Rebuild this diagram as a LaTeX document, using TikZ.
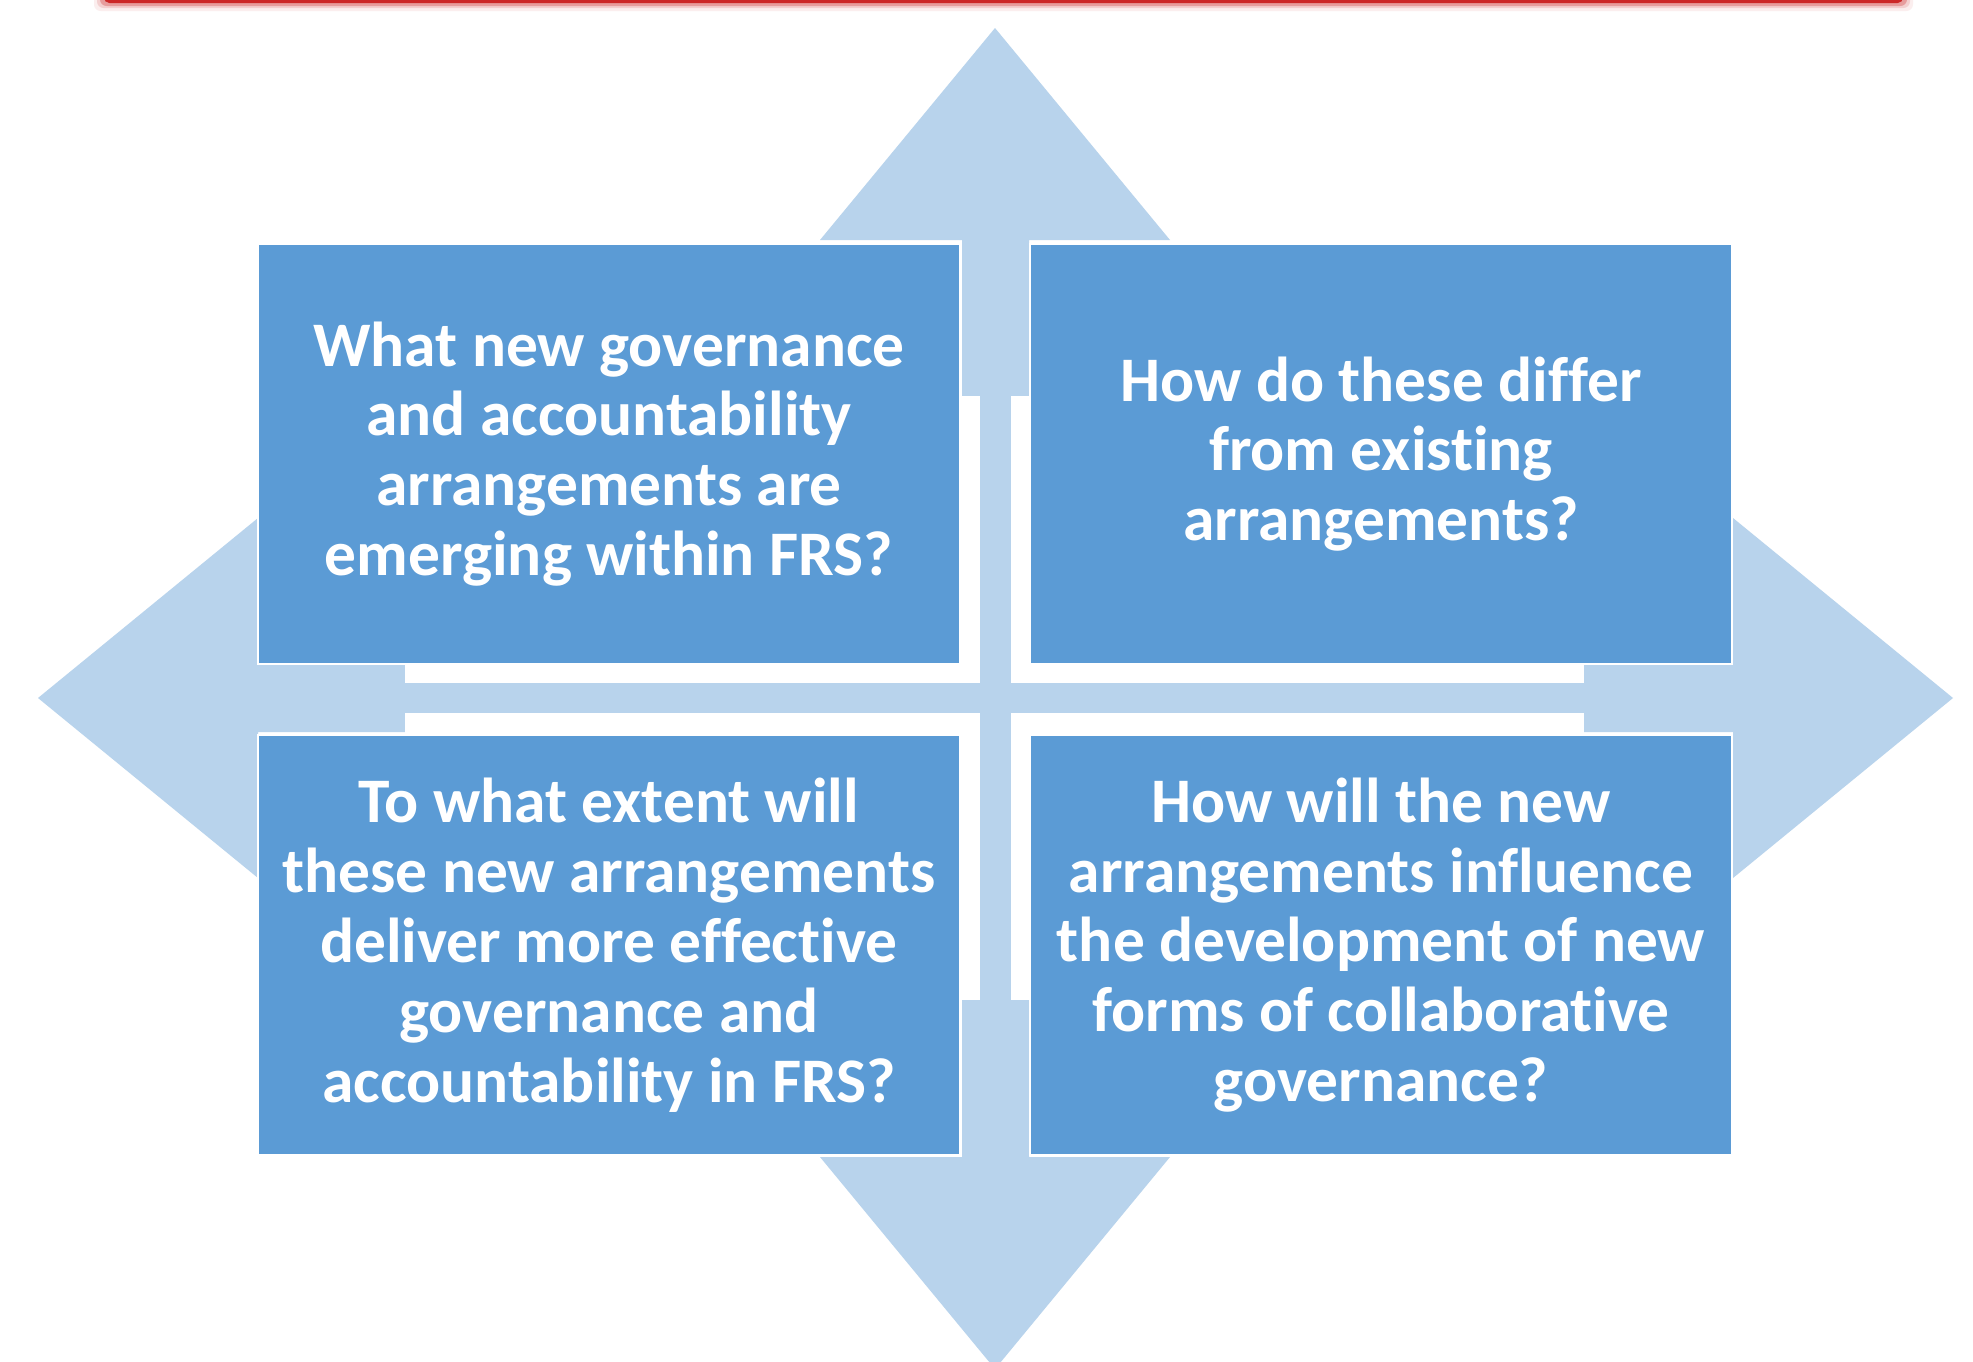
\documentclass[tikz,border=0pt]{standalone}
\usepackage{fontspec}
\setmainfont{Carlito}[Ligatures=NoCommon]
\definecolor{boxblue}{RGB}{91,155,213}
\definecolor{lightblue}{RGB}{184,211,236}
\definecolor{topred}{RGB}{204,40,40}
\begin{document}
\begin{tikzpicture}[x=0.75pt,y=-0.75pt,
  qbox/.style={draw=white, line width=2pt, fill=boxblue,
    minimum width=526.5pt, minimum height=315pt, inner sep=0pt,
    align=center, text=white, font=\bfseries\fontsize{47.6}{52.4}\selectfont},
  arrowfill/.style={fill=lightblue}]
\useasboundingbox (0,0) rectangle (1973,1361);
\fill[white] (0,0) rectangle (1973,1361);
% red bar at top with soft shadow
\fill[topred,opacity=0.08,rounded corners=5pt] (94,-30) rectangle (1913,11);
\fill[topred,opacity=0.15,rounded corners=5pt] (97,-30) rectangle (1910,8);
\fill[topred,opacity=0.3,rounded corners=5pt] (100,-30) rectangle (1907,6);
\fill[topred,rounded corners=4pt] (104,-30) rectangle (1903,3);
% quad arrow
\path[arrowfill] (995,28) -- (1170,240) -- (1029,240) -- (1029,665) -- (1733,665)
  -- (1733,518) -- (1953,698) -- (1733,878) -- (1733,732) -- (1029,732)
  -- (1029,1157) -- (1170,1157) -- (995,1369) -- (820,1157) -- (962,1157)
  -- (962,732) -- (258,732) -- (258,878) -- (38,698) -- (258,518)
  -- (258,665) -- (962,665) -- (962,240) -- (820,240) -- cycle;
% white centre and thin cross
\fill[white] (405,396) rectangle (1584,1000);
\fill[lightblue] (980,396) rectangle (1011,1000);
\fill[lightblue] (405,683) rectangle (1584,713);
% boxes
\node[qbox] (q1) at (609,454) {What new governance\\and accountability\\arrangements are\\emerging within FRS?};
\node[qbox] (q2) at (1381,454) {How do these differ\\from existing\\arrangements?};
\node[qbox] (q3) at (609,945) {To what extent will\\these new arrangements\\deliver more effective\\governance and\\accountability in FRS?};
\node[qbox] (q4) at (1381,945) {How will the new\\arrangements influence\\the development of new\\forms of collaborative\\governance?};
\end{tikzpicture}
\end{document}
